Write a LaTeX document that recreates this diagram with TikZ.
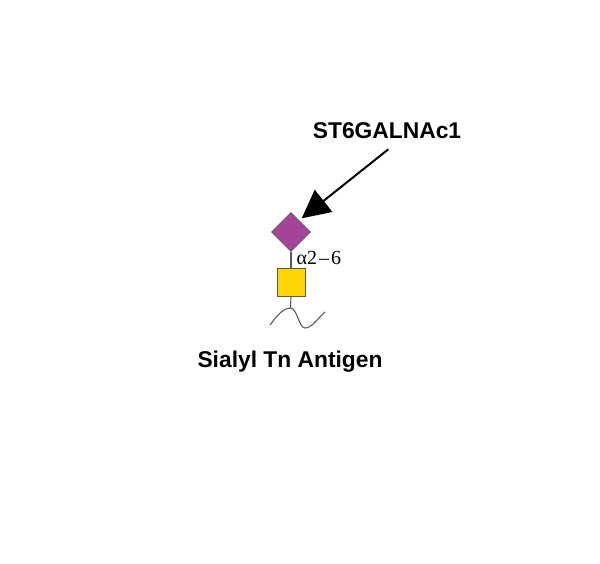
\documentclass[tikz,border=0pt]{standalone}
\usepackage{fontspec}
\setmainfont{Liberation Serif}
\newfontfamily\arialfont{Liberation Sans}
\usetikzlibrary{shapes.geometric,arrows.meta}
\definecolor{neuac}{RGB}{165,67,153}
\definecolor{galnac}{RGB}{255,212,0}
\definecolor{edgegray}{RGB}{90,90,90}
\tikzset{
  sugar/.style={draw=edgegray, line width=0.6bp, inner sep=0pt},
  bond/.style={draw=edgegray, line width=1.1bp},
  enzarrow/.style={line width=2bp, -{Triangle[length=28bp,width=28bp]}},
  boldlabel/.style={font=\arialfont\bfseries\fontsize{22.8bp}{27bp}\selectfont, inner sep=0pt, anchor=base},
  linklabel/.style={font=\fontsize{20bp}{23bp}\selectfont, inner sep=0pt, anchor=base west}
}
\begin{document}
\begin{tikzpicture}[x=1bp,y=-1bp]
\useasboundingbox (0,0) rectangle (600,564);
\node[sugar, diamond, fill=neuac, minimum width=39bp, minimum height=39bp] (neu) at (291,232) {};
\node[sugar, rectangle, fill=galnac, minimum size=28bp] (gal) at (291,282.5) {};
\coordinate (peak) at (290.5,308);
\draw[bond] (neu.south) -- (gal.north);
\draw[bond] (gal.south) -- (peak);
\draw[bond] (270,325) .. controls (278,314) and (284,308) .. (peak) .. controls (297,308) and (299,328) .. (305,328) .. controls (312,328) and (318,318) .. (325,312);
\node[linklabel] (link) at (296.5,264) {α2\kern2bp–\kern2bp6};
\node[boldlabel] (enz) at (387,138.3) {ST6GALNAc1};
\node[boldlabel] (name) at (290,367.3) {Sialyl Tn Antigen};
\coordinate (tip) at (301.7,218.3);
\coordinate (tail) at (388.3,149.3);
\draw[enzarrow] (tail) -- (tip);
\end{tikzpicture}
\end{document}
